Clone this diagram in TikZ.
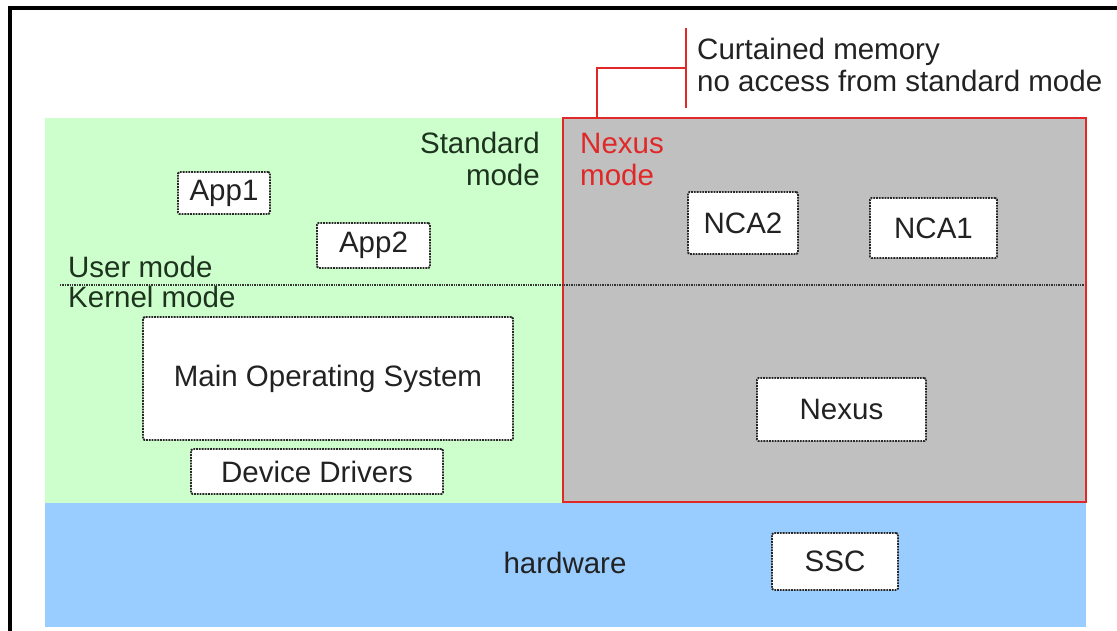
\documentclass[tikz,border=0pt]{standalone}
\usepackage{fontspec}
\setmainfont{Liberation Sans}
\definecolor{stdgreen}{HTML}{CCFFCC}
\definecolor{nexgray}{HTML}{C0C0C0}
\definecolor{hwblue}{HTML}{99CCFF}
\definecolor{nexred}{HTML}{E02828}
\definecolor{txt}{HTML}{222222}
\definecolor{gtxt}{HTML}{1E331E}
\begin{document}
\begin{tikzpicture}[x=1pt,y=-1pt,
  every node/.style={font=\fontsize{29.5}{32}\selectfont, text=txt, inner sep=0pt},
  comp/.style={draw=black!85, fill=white, densely dotted, line width=1.8pt, rounded corners=1.5pt, minimum width=#1},
  lbl/.style={anchor=base west},
  ]
\useasboundingbox (0,0) rectangle (1117,631);
% regions
\fill[stdgreen] (45,118) rectangle (563,503);
\fill[hwblue] (45,503) rectangle (1086,627);
\filldraw[fill=nexgray, draw=nexred, line width=2.4pt] (563,118) rectangle (1086,502);
% frame (cropped)
\draw[line width=4pt, black] (1117,8) -- (10,8) -- (10,631);
% user/kernel divider
\coordinate (divL) at (60,285);
\coordinate (divR) at (1084,285);
\draw[densely dotted, line width=1.4pt, black!80] (divL) -- (divR);
% curtained memory bracket
\coordinate (brA) at (597,117);
\coordinate (brB) at (597,68);
\coordinate (brC) at (686,68);
\coordinate (brT) at (686,28);
\coordinate (brD) at (686,108);
\draw[nexred, line width=2.2pt] (brA) -- (brB) -- (brC);
\draw[nexred, line width=2.2pt] (brT) -- (brD);
\node[lbl] (curt1) at (697,60) {Curtained memory};
\node[lbl] (curt2) at (697,92) {no access from standard mode};
% region labels
\node[anchor=base east, text=gtxt] (std1) at (540,154) {Standard};
\node[anchor=base east, text=gtxt] (std2) at (540,186) {mode};
\node[anchor=base west, text=nexred] (nex1) at (580,154) {Nexus};
\node[anchor=base west, text=nexred] (nex2) at (580,186) {mode};
\node[anchor=base west, text=gtxt] (user) at (68,277) {User mode};
\node[anchor=base west, text=gtxt] (kern) at (68,308) {Kernel mode};
\node (hw) at (565,563) {hardware};
% components
\node[comp=92pt, minimum height=42pt] (app1) at (224,193) {App1};
\node[comp=113pt, minimum height=45pt] (app2) at (373.5,245.5) {App2};
\node[comp=110pt, minimum height=62pt] (nca2) at (743,223) {NCA2};
\node[comp=127pt, minimum height=60pt] (nca1) at (933.5,228) {NCA1};
\node[comp=370pt, minimum height=123pt] (mos) at (328,378.5) {Main Operating System};
\node[comp=252pt, minimum height=45pt] (dd) at (317,471.5) {Device Drivers};
\node[comp=169pt, minimum height=63pt] (nexus) at (841.5,409.5) {Nexus};
\node[comp=126pt, minimum height=57pt] (ssc) at (835,561.5) {SSC};
\end{tikzpicture}
\end{document}
